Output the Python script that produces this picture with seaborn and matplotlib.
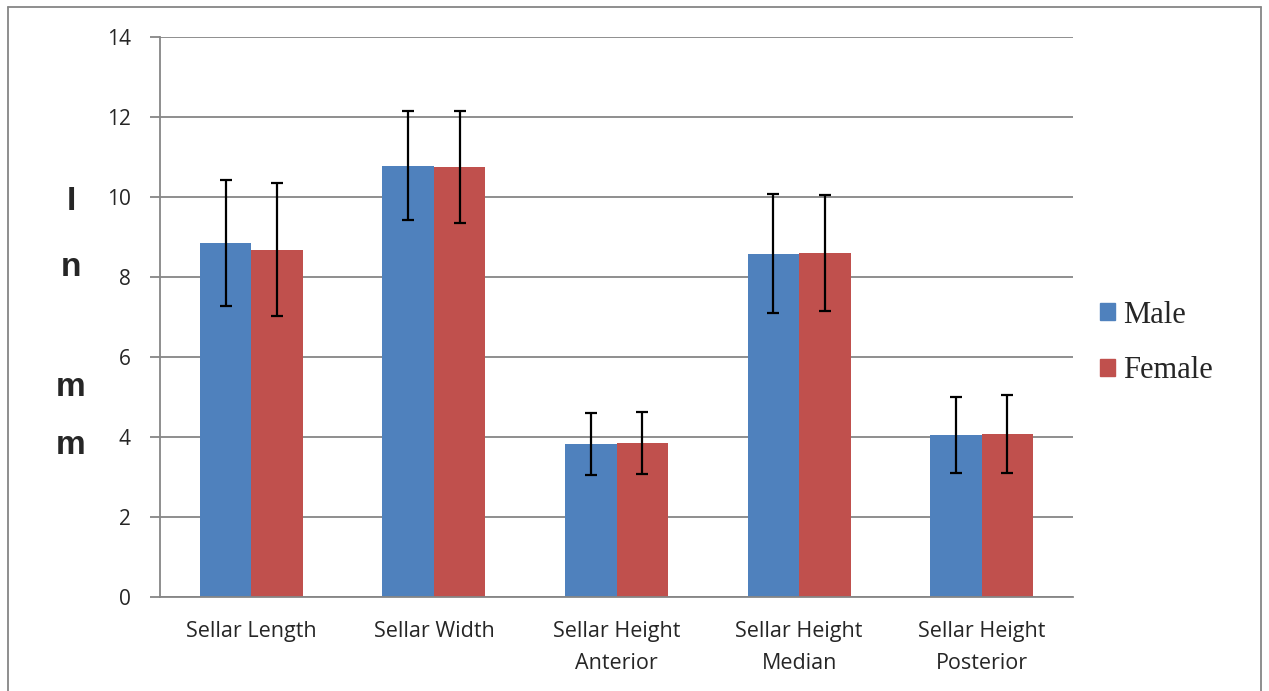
import matplotlib
matplotlib.use("Agg")
import matplotlib.pyplot as plt
import numpy as np
import pandas as pd
import seaborn as sns
from matplotlib.lines import Line2D

# values
measures = ['Sellar Length', 'Sellar Width', 'Sellar Height\nAnterior',
            'Sellar Height\nMedian', 'Sellar Height\nPosterior']
male_mean = [8.85, 10.78, 3.83, 8.58, 4.05]
male_sd = [1.58, 1.36, 0.77, 1.49, 0.94]
female_mean = [8.68, 10.75, 3.85, 8.60, 4.07]
female_sd = [1.66, 1.39, 0.77, 1.45, 0.97]
groups = ['Male', 'Female']
colors = ['#4F81BD', '#C0504D']

df = pd.DataFrame({
    'measure': measures * 2,
    'sex': ['Male'] * len(measures) + ['Female'] * len(measures),
    'mean': male_mean + female_mean,
    'sd': male_sd + female_sd,
})

sns.set_style('white')
fig = plt.figure(figsize=(12.69, 6.91), dpi=100)
ax = fig.add_axes([160 / 1269, 1 - 597 / 691, 913 / 1269, 560 / 691])

sns.barplot(data=df, x='measure', y='mean', hue='sex', hue_order=groups,
            palette=colors, width=0.565, gap=0, errorbar=None,
            saturation=1, linewidth=0, ax=ax, zorder=2)

# error bars on top of each bar
bars = [p for p in ax.patches if p.get_height() > 0][:len(df)]
for p, m, s in zip(bars, df['mean'], df['sd']):
    xc = p.get_x() + p.get_width() / 2
    ax.errorbar(xc, m, yerr=s, fmt='none', ecolor='black', elinewidth=1.6,
                capsize=4.5, capthick=1.6, zorder=3)

ax.set_ylim(0, 14)
ax.set_xlim(-0.5, 4.5)
ax.set_yticks(range(0, 15, 2))
ax.yaxis.grid(True, color='#868686', linewidth=1.3, zorder=0)
ax.set_axisbelow(True)
for side in ['top', 'right']:
    ax.spines[side].set_visible(False)
for side in ['left', 'bottom']:
    ax.spines[side].set_color('#868686')
    ax.spines[side].set_linewidth(1.3)

ax.set_xticks(np.arange(len(measures)))
ax.set_xticklabels(measures, fontfamily='Open Sans', fontsize=15.5,
                   linespacing=1.7)
ax.tick_params(axis='x', which='major', length=0, pad=17)
ax.set_xticks(np.arange(-0.5, len(measures)), minor=True)
ax.tick_params(axis='x', which='minor', length=7, color='#868686', width=1.3,
               direction='out')
ax.tick_params(axis='y', length=7, color='#868686', width=1.3, left=True,
               direction='out', pad=14)
for lab in ax.get_yticklabels():
    lab.set_fontfamily('Open Sans')
    lab.set_fontsize(15)

ax.set_xlabel('')
ax.set_ylabel('')

# stacked y label
for ch, ypx in zip(['I', 'n', 'm', 'm'], [201, 268, 388, 446]):
    fig.text(71 / 1269, 1 - ypx / 691, ch, fontsize=24, fontweight='bold',
             fontfamily='Liberation Sans', ha='center', va='center')

ax.legend_.remove()
handles = [plt.Rectangle((0, 0), 1, 1, color=c) for c in colors]
fig.legend(handles, groups, loc='center left',
           bbox_to_anchor=(1100 / 1269, 1 - 343 / 691),
           prop={'family': 'Liberation Serif', 'size': 22},
           frameon=False, handlelength=0.5, handleheight=0.5,
           handletextpad=0.25, labelspacing=0.88, borderpad=0,
           borderaxespad=0)

# outer chart frame
for xs, ys in [([8, 8], [7, 691]), ([8, 1261], [7, 7]), ([1261, 1261], [7, 691])]:
    fig.add_artist(Line2D([x / 1269 for x in xs], [1 - y / 691 for y in ys],
                          color='#868686', linewidth=1.3))

fig.savefig('out.png', dpi=100)
